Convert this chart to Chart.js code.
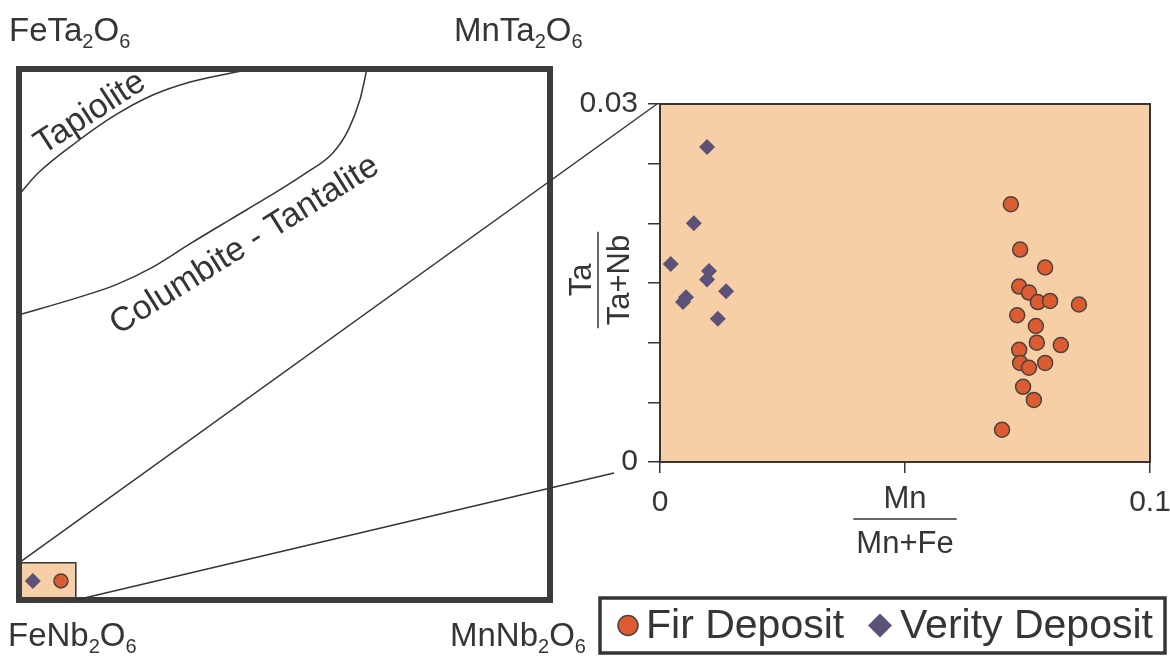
<!DOCTYPE html>
<html>
<head>
<meta charset="utf-8">
<script src="https://cdn.jsdelivr.net/npm/chart.js@4.4.0/dist/chart.umd.min.js"></script>
<style>
  html, body { margin: 0; padding: 0; background: #fff; }
  #wrap { position: relative; width: 1170px; height: 656px; }
  #wrap canvas { position: absolute; left: 0; top: 0; }
</style>
</head>
<body>
<div id="wrap">
  <canvas id="diagram" width="1170" height="656"></canvas>
  <canvas id="detail" width="1170" height="656"></canvas>
</div>
<script>
// ---- quadrilateral (Mn/(Mn+Fe) vs Ta/(Ta+Nb), 0..1) ----
const cornerLabels = ['FeTa2O6', 'MnTa2O6', 'FeNb2O6', 'MnNb2O6'];
const fieldLabels = ['Tapiolite', 'Columbite - Tantalite'];

const tapioliteX = [0, 0.036, 0.109, 0.181, 0.252, 0.324, 0.397, 0.437];
const tapioliteY = [0.763, 0.804, 0.863, 0.913, 0.951, 0.976, 0.992, 1.0];

const columbiteX = [0, 0.109, 0.181, 0.252, 0.324, 0.397, 0.469, 0.540, 0.591, 0.620, 0.642, 0.652, 0.655];
const columbiteY = [0.537, 0.569, 0.593, 0.627, 0.672, 0.716, 0.759, 0.804, 0.842, 0.885, 0.942, 0.985, 1.0];

// outline of the enlarged window
const zoomBoxX = [0, 0, 0.107, 0.107];
const zoomBoxY = [0, 0.07, 0.07, 0];
// symbols shown inside it
const boxVerityX = [0.026];
const boxVerityY = [0.036];
const boxFirX = [0.079];
const boxFirY = [0.036];

// ---- enlarged plot ----
const firMn = [0.0716, 0.0735, 0.0786, 0.0733, 0.0753, 0.0771, 0.0796, 0.0855, 0.0729, 0.0767,
               0.0769, 0.0818, 0.0733, 0.0735, 0.0753, 0.0786, 0.0741, 0.0763, 0.0698];
const firTa = [0.0216, 0.0178, 0.0163, 0.0147, 0.0142, 0.0134, 0.0135, 0.0132, 0.0123, 0.0114,
               0.0100, 0.0098, 0.0094, 0.0083, 0.0079, 0.0083, 0.0063, 0.0052, 0.0027];

const verityMn = [0.0096, 0.0069, 0.0022, 0.0100, 0.0096, 0.0135, 0.0053, 0.0047, 0.0118];
const verityTa = [0.0264, 0.0200, 0.0166, 0.0160, 0.0153, 0.0143, 0.0138, 0.0134, 0.0120];

const xTickValues = [0, 0.05, 0.1];
const xTickLabels = ['0', '', '0.1'];
const yTickValues = [0, 0.005, 0.01, 0.015, 0.02, 0.025, 0.03];
const yTickLabels = ['0', '', '', '', '', '', '0.03'];

const FONT = '"Liberation Sans", Arial, Helvetica, sans-serif';
const INK = '#353535';
const PEACH = '#f6cfa6';
const FIR_FILL = '#dc5b30';
const FIR_EDGE = '#4a4440';
const VERITY_FILL = '#5c5177';

const zip = (xs, ys) => xs.map((x, i) => ({ x: x, y: ys[i] }));

// chemical formula with the digits set as subscripts
function drawFormula(ctx, text, x, y) {
    const parts = text.match(/[A-Za-z]+|\d+/g);
    let cx = x;
    ctx.textAlign = 'left';
    ctx.textBaseline = 'alphabetic';
    parts.forEach(p => {
        const sub = /\d/.test(p);
        ctx.font = (sub ? '20px ' : '33px ') + FONT;
        ctx.fillText(p, cx, sub ? y + 7 : y);
        cx += ctx.measureText(p).width;
    });
}

function drawFraction(ctx, num, den, cx, cy, numGap, denGap) {
    ctx.font = '31px ' + FONT;
    ctx.textAlign = 'center';
    ctx.textBaseline = 'middle';
    ctx.fillText(num, cx, cy - numGap);
    ctx.fillText(den, cx, cy + denGap);
    const w = ctx.measureText(den).width + 6;
    ctx.lineWidth = 1.5;
    ctx.beginPath();
    ctx.moveTo(cx - w / 2, cy);
    ctx.lineTo(cx + w / 2, cy);
    ctx.stroke();
}

const diagramDecor = {
    id: 'diagramDecor',
    afterDraw(chart) {
        const { ctx, chartArea: a, scales: { x, y } } = chart;
        ctx.save();
        ctx.strokeStyle = '#3c3c3c';
        ctx.lineWidth = 6;
        ctx.strokeRect(a.left, a.top, a.right - a.left, a.bottom - a.top);

        ctx.fillStyle = INK;
        drawFormula(ctx, cornerLabels[0], a.left - 10, a.top - 28);
        drawFormula(ctx, cornerLabels[1], a.right - 96, a.top - 28);
        drawFormula(ctx, cornerLabels[2], a.left - 11, a.bottom + 46);
        drawFormula(ctx, cornerLabels[3], a.right - 100, a.bottom + 46);

        ctx.font = '34px ' + FONT;
        ctx.textAlign = 'center';
        ctx.textBaseline = 'middle';
        [[fieldLabels[0], 0.134, 0.917, -33], [fieldLabels[1], 0.425, 0.668, -32]].forEach(([t, vx, vy, deg]) => {
            ctx.save();
            ctx.translate(x.getPixelForValue(vx), y.getPixelForValue(vy));
            ctx.rotate(deg * Math.PI / 180);
            ctx.fillText(t, 0, 0);
            ctx.restore();
        });
        ctx.restore();
    }
};

const diagram = new Chart(document.getElementById('diagram'), {
    type: 'scatter',
    data: {
        datasets: [
            { label: 'Verity Deposit', data: zip(boxVerityX, boxVerityY), pointStyle: 'rectRot', pointRadius: 8,
              backgroundColor: VERITY_FILL, borderWidth: 0 },
            { label: 'Fir Deposit', data: zip(boxFirX, boxFirY), pointStyle: 'circle', pointRadius: 7,
              backgroundColor: FIR_FILL, borderColor: FIR_EDGE, borderWidth: 1.5 },
            { label: 'Tapiolite', data: zip(tapioliteX, tapioliteY), showLine: true, pointRadius: 0,
              borderColor: INK, borderWidth: 1.5, cubicInterpolationMode: 'monotone' },
            { label: 'Columbite', data: zip(columbiteX, columbiteY), showLine: true, pointRadius: 0,
              borderColor: INK, borderWidth: 1.5, cubicInterpolationMode: 'monotone' },
            { label: 'window', data: zip(zoomBoxX, zoomBoxY), showLine: true, pointRadius: 0, tension: 0,
              fill: 'origin', backgroundColor: PEACH, borderColor: INK, borderWidth: 1.5 }
        ]
    },
    options: {
        responsive: false,
        animation: false,
        events: [],
        layout: { padding: { left: 19, top: 69, right: 620, bottom: 56 } },
        plugins: { legend: { display: false }, tooltip: { enabled: false } },
        scales: {
            x: { type: 'linear', min: 0, max: 1, display: false },
            y: { type: 'linear', min: 0, max: 1, display: false }
        }
    },
    plugins: [diagramDecor]
});

const detailDecor = {
    id: 'detailDecor',
    beforeDraw(chart) {
        const { ctx, chartArea: a } = chart;
        ctx.save();
        ctx.fillStyle = PEACH;
        ctx.fillRect(a.left, a.top, a.right - a.left, a.bottom - a.top);
        ctx.restore();
    },
    afterDraw(chart) {
        const { ctx, chartArea: a, scales: { x, y } } = chart;
        ctx.save();
        ctx.strokeStyle = INK;
        ctx.fillStyle = INK;
        ctx.lineWidth = 2;
        ctx.strokeRect(a.left, a.top, a.right - a.left, a.bottom - a.top);

        // axis titles
        drawFraction(ctx, 'Mn', 'Mn+Fe', x.getPixelForValue(0.05), a.bottom + 57, 20, 25);
        ctx.save();
        ctx.translate(a.left - 62, (a.top + a.bottom) / 2 - 3);
        ctx.rotate(-Math.PI / 2);
        drawFraction(ctx, 'Ta', 'Ta+Nb', 0, 0, 16, 22);
        ctx.restore();

        // lines linking the small window to this plot
        const lx = diagram.scales.x, ly = diagram.scales.y;
        ctx.lineWidth = 1.5;
        ctx.beginPath();
        ctx.moveTo(lx.getPixelForValue(zoomBoxX[1]), ly.getPixelForValue(zoomBoxY[1]));
        ctx.lineTo(x.getPixelForValue(0) - 3, y.getPixelForValue(0.03));
        ctx.moveTo(lx.getPixelForValue(zoomBoxX[3]), ly.getPixelForValue(zoomBoxY[3]));
        ctx.lineTo(a.left - 46, a.bottom + 11);
        ctx.stroke();

        // legend
        const bx = a.left - 60, by = a.bottom + 136, bw = 565, bh = 55;
        ctx.lineWidth = 3.5;
        ctx.strokeRect(bx, by, bw, bh);
        const cy = by + bh / 2;
        const ds = chart.data.datasets;
        const items = [[ds[0], bx + 28, bx + 46], [ds[1], bx + 280, bx + 300]];
        items.forEach(([d, mx, tx]) => {
            ctx.fillStyle = d.backgroundColor;
            ctx.strokeStyle = d.borderColor;
            ctx.lineWidth = d.borderWidth;
            Chart.helpers.drawPoint(ctx, { pointStyle: d.pointStyle, radius: d.pointStyle === 'circle' ? 10 : 12,
                borderWidth: d.borderWidth, rotation: 0 }, mx, cy);
            ctx.fillStyle = INK;
            ctx.font = '41px ' + FONT;
            ctx.textAlign = 'left';
            ctx.textBaseline = 'middle';
            ctx.fillText(d.label, tx, cy + 1);
        });
        ctx.restore();
    }
};

const tickGrid = { drawOnChartArea: false, color: INK, lineWidth: 1.5 };

const detail = new Chart(document.getElementById('detail'), {
    type: 'scatter',
    data: {
        datasets: [
            { label: 'Fir Deposit', data: zip(firMn, firTa), pointStyle: 'circle', pointRadius: 7.5,
              backgroundColor: FIR_FILL, borderColor: FIR_EDGE, borderWidth: 1.5 },
            { label: 'Verity Deposit', data: zip(verityMn, verityTa), pointStyle: 'rectRot', pointRadius: 8,
              backgroundColor: VERITY_FILL, borderColor: VERITY_FILL, borderWidth: 0 }
        ]
    },
    options: {
        responsive: false,
        animation: false,
        events: [],
        layout: { padding: { left: 560, top: 104, right: 20, bottom: 134 } },
        plugins: { legend: { display: false }, tooltip: { enabled: false } },
        scales: {
            x: {
                type: 'linear', min: 0, max: 0.1,
                afterBuildTicks: s => { s.ticks = xTickValues.map(v => ({ value: v })); },
                // keep the plot edge fixed: the end labels may hang past it
                afterFit: s => { s.height = 60; s.paddingLeft = 0; s.paddingRight = 0; },
                grid: Object.assign({ tickLength: 11 }, tickGrid),
                border: { color: INK, width: 2 },
                ticks: { autoSkip: false, maxRotation: 0, padding: 12, color: INK,
                         font: { family: FONT, size: 30 }, callback: (v, i) => xTickLabels[i] }
            },
            y: {
                type: 'linear', min: 0, max: 0.03,
                afterBuildTicks: s => { s.ticks = yTickValues.map(v => ({ value: v })); },
                afterFit: s => { s.width = 100; },
                grid: Object.assign({ tickLength: 12 }, tickGrid),
                border: { color: INK, width: 2 },
                ticks: { autoSkip: false, padding: 10, color: INK,
                         font: { family: FONT, size: 30 }, callback: (v, i) => yTickLabels[i] }
            }
        }
    },
    plugins: [detailDecor]
});
</script>
</body>
</html>
